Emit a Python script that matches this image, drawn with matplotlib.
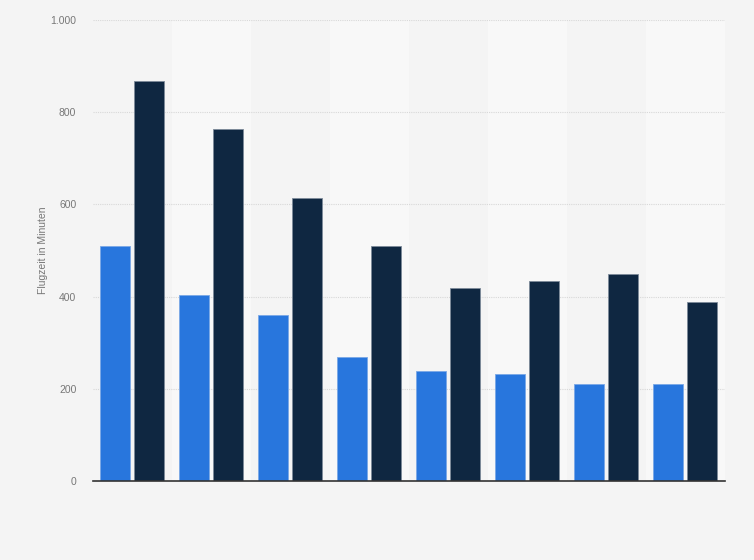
import matplotlib.pyplot as plt
import numpy as np

plt.rcParams['font.family'] = ['Liberation Sans', 'DejaVu Sans']

# Flugzeit in Minuten, 8 Kategorien (keine Beschriftung sichtbar)
series_a = [510, 403, 360, 268, 238, 233, 210, 210]
series_b = [868, 764, 613, 510, 418, 433, 449, 388]
yticks = [0, 200, 400, 600, 800, 1000]
ytick_labels = ['0', '200', '400', '600', '800', '1.000']

fig = plt.figure(figsize=(7.54, 5.6), dpi=100)
fig.patch.set_facecolor('#f4f4f4')
ax = fig.add_axes([93/754, 1 - 481/560, (724.5 - 93)/754, 461/560])
ax.set_facecolor('#f4f4f4')

n = len(series_a)
x = np.arange(n)
for i in x:
    if i % 2 == 1:
        ax.axvspan(i - 0.5, i + 0.5, color='#f8f8f8', zorder=0, lw=0)

w = 0.38
ax.bar(x - 0.215, series_a, width=w, color='#2876dd', edgecolor='#7aa8e6', lw=0.6, zorder=3)
ax.bar(x + 0.21, series_b, width=w, color='#0f2741', edgecolor='#7d8a99', lw=0.6, zorder=3)

ax.set_xlim(-0.5, n - 0.5)
ax.set_ylim(0, 1000)
ax.set_yticks(yticks)
ax.set_yticklabels(ytick_labels)
ax.set_xticks([])
ax.tick_params(axis='y', length=0, pad=12, labelsize=7.5, labelcolor='#777777')
ax.yaxis.grid(True, color='#d8d8d8', ls=(0, (1, 1)), lw=0.8, zorder=1)
ax.set_axisbelow(True)
for s in ['top', 'right', 'left']:
    ax.spines[s].set_visible(False)
ax.spines['bottom'].set_color('#333333')
ax.spines['bottom'].set_linewidth(1.2)
ax.spines['bottom'].set_zorder(4)

ax.set_ylabel('Flugzeit in Minuten', fontsize=7.5, color='#777777', labelpad=2)

fig.savefig('out.png', dpi=100, facecolor=fig.get_facecolor())
